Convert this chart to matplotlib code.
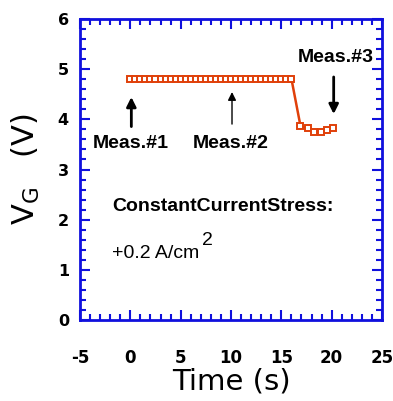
import matplotlib
matplotlib.use("Agg")
import matplotlib.pyplot as plt
from matplotlib.ticker import MultipleLocator

# Daten
t_flat = [0, 0.5, 1, 1.5, 2, 2.5, 3, 3.5, 4, 4.5, 5, 5.5, 6, 6.5, 7, 7.5, 8,
          8.5, 9, 9.5, 10, 10.5, 11, 11.5, 12, 12.5, 13, 13.5, 14, 14.5, 15,
          15.5, 16]
vg_flat = [4.81] * len(t_flat)
t_after = [16.9, 17.6, 18.2, 18.9, 19.5, 20.1]
vg_after = [3.87, 3.82, 3.74, 3.75, 3.78, 3.82]

time = t_flat + t_after
vg = vg_flat + vg_after

axis_blue = "#1010dd"
line_col = "#e0400a"
fam = ["Liberation Sans", "DejaVu Sans"]

fig = plt.figure(figsize=(3.93, 4.01), dpi=100)
ax = fig.add_axes([80/393, 1 - 320/401, 302/393, 301/401])

ax.plot(time, vg, color=line_col, lw=1.8, marker="s", ms=4.5,
        mfc="white", mec=line_col, mew=1.4)

ax.set_xlim(-5, 25)
ax.set_ylim(0, 6)
ax.xaxis.set_major_locator(MultipleLocator(5))
ax.xaxis.set_minor_locator(MultipleLocator(1))
ax.yaxis.set_major_locator(MultipleLocator(1))
ax.yaxis.set_minor_locator(MultipleLocator(0.2))

for s in ax.spines.values():
    s.set_color(axis_blue)
    s.set_linewidth(2)
ax.tick_params(which="both", direction="in", top=True, right=True,
               color=axis_blue, width=1.5)
ax.tick_params(which="major", length=7)
ax.tick_params(which="minor", length=4)
ax.tick_params(axis="x", pad=21, labelsize=12)
ax.tick_params(axis="y", pad=8, labelsize=11.5)
ax.set_xticks(range(-5, 30, 5), ["-5", "0", "5", "10", "15", "20", "25"])
for lab in ax.get_xticklabels() + ax.get_yticklabels():
    lab.set_fontweight("bold")

ax.set_xlabel("Time (s)", fontsize=21, labelpad=0)
ax.set_ylabel(r"V$_{\mathregular{G}}$   (V)", fontsize=22, labelpad=11)

# Pfeile und Beschriftungen
akw = dict(arrowstyle="-|>", color="black", lw=2, mutation_scale=14)
ax.annotate("", xy=(0.1, 4.5), xytext=(0.1, 3.8), arrowprops=akw)
ax.annotate("", xy=(10.1, 4.6), xytext=(10.1, 3.85),
            arrowprops=dict(arrowstyle="-|>", color="black", lw=1, mutation_scale=12))
ax.annotate("", xy=(20.2, 4.05), xytext=(20.2, 4.9), arrowprops=akw)

tkw = dict(fontsize=14, fontweight="bold", family=fam)
ax.text(0, 3.52, "Meas.#1", ha="center", va="center", **tkw)
ax.text(10, 3.52, "Meas.#2", ha="center", va="center", **tkw)
ax.text(20.4, 5.24, "Meas.#3", ha="center", va="center", **tkw)
ax.text(-1.8, 2.27, "ConstantCurrentStress:", ha="left", va="center", **tkw)
ax.text(-1.8, 1.23, "+0.2 A/cm", ha="left", va="baseline",
        fontsize=14, family=fam)
ax.text(7.1, 1.49, "2", ha="left", va="baseline", fontsize=14, family=fam)

fig.savefig("out.png", dpi=100)
